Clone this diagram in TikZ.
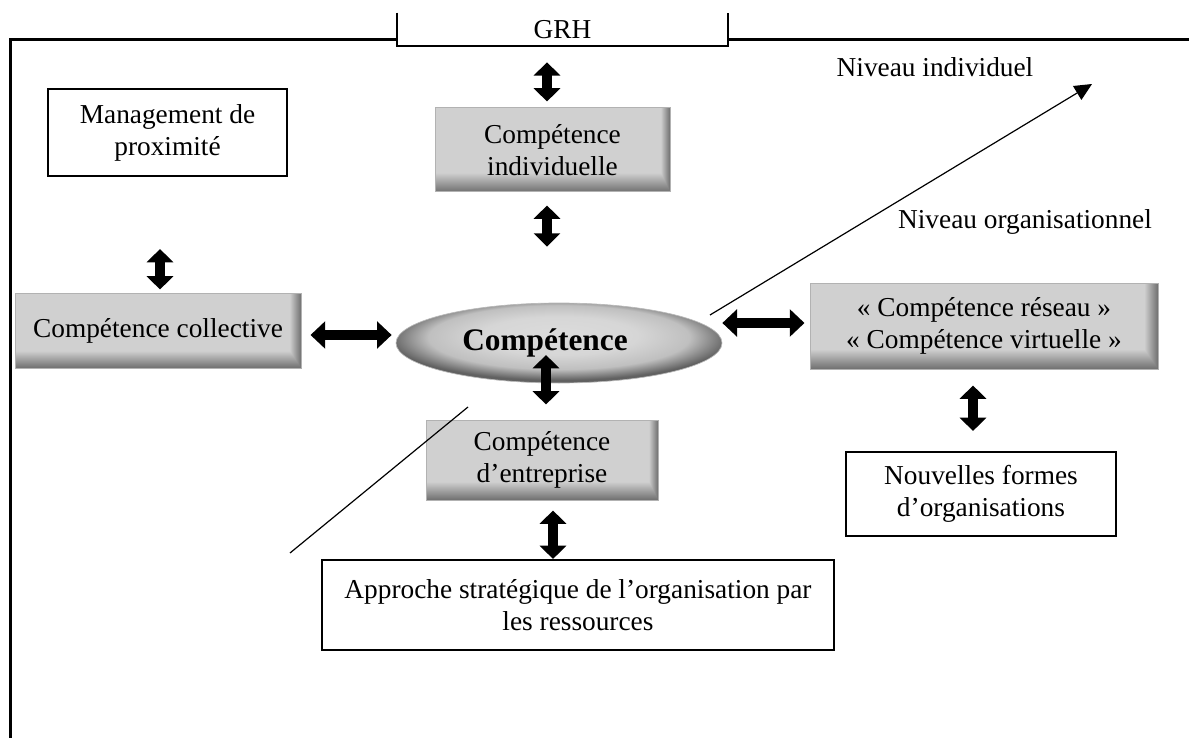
\documentclass[tikz,border=0pt]{standalone}
\usepackage{fontspec}
\setmainfont{Liberation Serif}
\usetikzlibrary{arrows.meta,shapes.geometric}
\pgfdeclareradialshading{ellsh}{\pgfpoint{0bp}{6bp}}{color(0bp)=(gray!28); color(12bp)=(gray!32); color(20bp)=(gray!50); color(26bp)=(black!62); color(50bp)=(black!62)}
\pgfdeclarefunctionalshading{boxsh}{\pgfpointorigin}{\pgfpoint{100bp}{100bp}}{}{
  36.5 exch sub 11.5 div
  dup 0 lt {pop 0} if
  exch 73 sub 2 div
  dup 0 lt {pop 0} if
  2 copy lt {exch} if pop
  0.38 mul 0.815 exch sub
  dup dup
}
\begin{document}
\begin{tikzpicture}[x=0.75pt,y=-0.75pt,
  every node/.style={font=\fontsize{20.5}{24}\selectfont, inner sep=0pt, align=center},
  wbox/.style={draw=black, line width=1.5pt, fill=white},
  gbox/.style={draw=gray!60, line width=0.75pt, shade, shading=boxsh},
  dblv/.style={line width=7.5pt, {Triangle[width=19.5pt,length=10pt]}-{Triangle[width=19.5pt,length=10pt]}},
  dblh/.style={line width=7.5pt, {Triangle[width=20pt,length=11pt]}-{Triangle[width=20pt,length=11pt]}},
  thin/.style={line width=0.9pt}
]
\useasboundingbox (0,0) rectangle (1189,738);

% frame
\node[minimum width=248.25pt, minimum height=24.75pt] (grh) at (562.5,29.5) {GRH};
\draw[line width=1.5pt] (grh.north west) -- (grh.south west) -- (grh.south east) -- (grh.north east);
\draw[line width=2.25pt] (10,738) -- (10,40) -- (397,40);
\draw[line width=2.25pt] (728,40) -- (1189,40);

% boxes
\node[wbox, minimum width=179.25pt, minimum height=65.25pt] (mgmt) at (167.5,132.5) {Management de\\proximité};
\node[gbox, minimum width=176.25pt, minimum height=63pt] (indiv) at (552.5,150) {Compétence\\individuelle};
\node[gbox, minimum width=214.5pt, minimum height=56.25pt] (coll) at (158,330.5) {Compétence collective};
\node[ellipse, shade, shading=ellsh, draw=gray!55, line width=0.5pt, minimum width=244.5pt, minimum height=60pt] (comp) at (559,343) {\fontsize{23.5}{28}\selectfont\bfseries Compétence\hspace*{21pt}};
\node[gbox, minimum width=261pt, minimum height=64.5pt] (res) at (984,326) {« Compétence réseau »\\« Compétence virtuelle »};
\node[gbox, minimum width=174pt, minimum height=60pt] (entr) at (542,460) {Compétence\\d’entreprise};
\node[wbox, minimum width=384pt, minimum height=67.5pt] (appr) at (578,605) {Approche stratégique de l’organisation par\\les ressources};
\node[wbox, minimum width=202.5pt, minimum height=63pt] (nouv) at (981,494) {Nouvelles formes\\d’organisations};

% labels
\node (nind) at (935,67) {Niveau individuel};
\node (norg) at (1025,222) {Niveau organisationnel};

% double arrows
\draw[dblv, shorten <=12pt, shorten >=4.5pt] ([xshift=-11.625pt]grh.south) -- ([xshift=-4.125pt]indiv.north);
\draw[dblv, shorten <=9.75pt, shorten >=42pt] ([xshift=-4.125pt]indiv.south) -- ([xshift=-9pt]comp.north);
\draw[dblv, shorten <=54pt, shorten >=2.25pt] ([xshift=-5.625pt]mgmt.south) -- ([xshift=1.5pt]coll.north);
\draw[dblh, shorten <=6.75pt, shorten >=3pt] ([yshift=-3.375pt]coll.east) -- ([yshift=6pt]comp.west);
\draw[dblh, shorten <=0pt, shorten >=3.75pt] ([yshift=15pt]comp.east) -- ([yshift=2.25pt]res.west);
\draw[dblv, shorten <=9pt, shorten >=11.25pt] ([xshift=-9.75pt]comp.center) -- ([xshift=3pt]entr.north);
\draw[dblv, shorten <=7.5pt, shorten >=0pt] ([xshift=8.25pt]entr.south) -- ([xshift=-18.75pt]appr.north);
\draw[dblv, shorten <=12pt, shorten >=15pt] ([xshift=-8.25pt]res.south) -- ([xshift=-6pt]nouv.north);

% level lines
\coordinate (l1a) at (290,553);
\coordinate (l1b) at (468,407);
\coordinate (l2a) at (710,315);
\coordinate (l2b) at (1092,84);
\draw[thin] (l1a) -- (l1b);
\draw[thin, -{Triangle[width=12pt,length=13pt]}] (l2a) -- (l2b);
\end{tikzpicture}
\end{document}
